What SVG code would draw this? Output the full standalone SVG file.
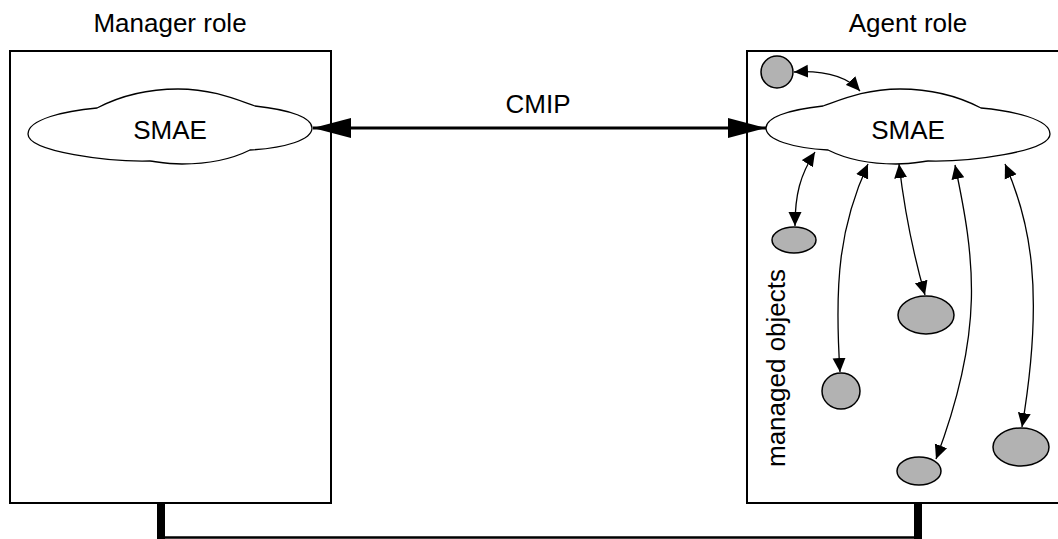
<svg xmlns="http://www.w3.org/2000/svg" width="1058" height="539" viewBox="0 0 1058 539">
  <style>
    .lbl { font-family: "Liberation Sans", Arial, sans-serif; font-size: 26px; fill: #000; }
    .box { fill: #fff; stroke: #000; stroke-width: 2; }
    .cloud { fill: #fff; stroke: #000; stroke-width: 1.3; }
    .mo { fill: #b2b2b2; stroke: #000; stroke-width: 1.5; }
    .link { fill: none; stroke: #000; stroke-width: 1.3; marker-start: url(#head); marker-end: url(#head); }
    .cmip { fill: none; stroke: #000; stroke-width: 3; marker-start: url(#bighead); marker-end: url(#bighead); }
  </style>
  <defs>
    <marker id="head" markerUnits="userSpaceOnUse" viewBox="0 -7 14 14" refX="14" refY="0" markerWidth="14" markerHeight="14" orient="auto-start-reverse">
      <path d="M0,-6.5 L14,0 L0,6.5 Z" fill="#000"/>
    </marker>
    <marker id="bighead" markerUnits="userSpaceOnUse" viewBox="0 -11 38 22" refX="38" refY="0" markerWidth="38" markerHeight="22" orient="auto-start-reverse">
      <path d="M0,-10 L38,0 L0,10 Z" fill="#000"/>
    </marker>
    <path id="cloud-shape" d="M28,134 C28,119 65,111 97,108 C120,96 145,89 178,89 C212,89 235,99 255,106 C292,110 312,118 312,128 C312,140 285,148 250,150 C232,159 210,164 182,164 C168,164 158,162 150,161 C110,162 28,152 28,134 Z"/>
  </defs>

  <!-- manager side -->
  <g id="manager-role">
    <rect class="box" x="10" y="51" width="321" height="452"/>
    <text class="lbl" x="170" y="32" text-anchor="middle">Manager role</text>
  </g>

  <!-- agent side, box runs past the right edge -->
  <g id="agent-role">
    <rect class="box" x="747" y="51" width="330" height="452"/>
    <text class="lbl" x="908" y="32" text-anchor="middle">Agent role</text>
    <text class="lbl" transform="translate(785 368) rotate(-90)" text-anchor="middle">managed objects</text>
  </g>

  <g id="smae-manager">
    <use href="#cloud-shape" class="cloud"/>
    <text class="lbl" x="170" y="139" text-anchor="middle">SMAE</text>
  </g>

  <g id="smae-agent">
    <use href="#cloud-shape" class="cloud" transform="translate(1078 0) scale(-1 1)"/>
    <text class="lbl" x="908" y="139" text-anchor="middle">SMAE</text>
  </g>

  <!-- managed objects -->
  <g id="mo1"><ellipse class="mo" cx="777" cy="72" rx="16" ry="16"/></g>
  <g id="mo2"><ellipse class="mo" cx="794" cy="240" rx="22" ry="13"/></g>
  <g id="mo3"><ellipse class="mo" cx="926" cy="315" rx="28" ry="19"/></g>
  <g id="mo4"><ellipse class="mo" cx="841" cy="391" rx="19" ry="18"/></g>
  <g id="mo5"><ellipse class="mo" cx="919" cy="471" rx="22" ry="14"/></g>
  <g id="mo6"><ellipse class="mo" cx="1021" cy="447" rx="28" ry="19"/></g>

  <!-- connectors -->
  <g id="connectors">
    <text class="lbl" x="538" y="113" text-anchor="middle">CMIP</text>
    <path class="cmip" d="M313,128 L766,128"/>
    <path class="link" d="M794,72 C830,70 850,80 860,91"/>
    <path class="link" d="M815,152 C800,175 795,195 795,226"/>
    <path class="link" d="M868,164 C840,225 834,280 840,372"/>
    <path class="link" d="M899,164 C905,215 915,260 925,295"/>
    <path class="link" d="M955,165 C975,260 985,330 936,459"/>
    <path class="link" d="M1005,164 C1030,220 1045,290 1022,427"/>
    <!-- physical link between the two systems -->
    <path d="M161,503 V537.5 H918 V503" fill="none" stroke="#000" stroke-width="2.5"/>
    <rect x="157" y="503" width="8" height="36" fill="#000"/>
    <rect x="914" y="503" width="8" height="36" fill="#000"/>
  </g>
</svg>
